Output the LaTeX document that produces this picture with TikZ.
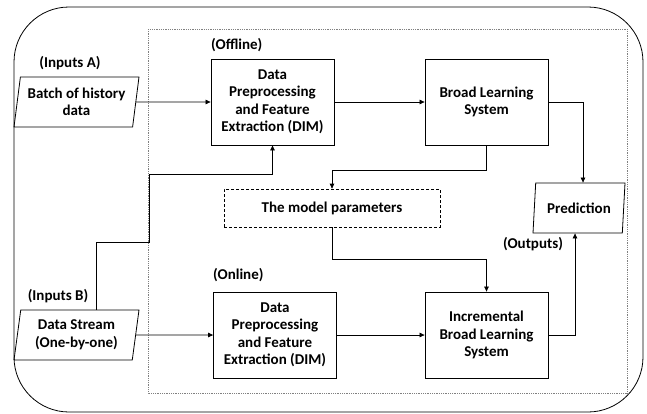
\documentclass[tikz,border=0pt]{standalone}
\usepackage{fontspec}
\setmainfont{Carlito}
\usetikzlibrary{arrows.meta,shapes.geometric,positioning}

\begin{document}
\begin{tikzpicture}[x=1pt,y=-1pt,
    font=\fontsize{15}{17.5}\selectfont\bfseries,
    blk/.style={draw,line width=0.8pt,minimum width=123pt,minimum height=86pt,align=center,inner sep=2pt},
    io/.style={draw,line width=0.8pt,trapezium,trapezium left angle=78,trapezium right angle=102,
               trapezium stretches body,minimum width=125pt,minimum height=50pt,align=center,inner sep=1pt},
    lbl/.style={inner sep=0pt},
    arr/.style={-{Triangle[length=5pt,width=4.5pt]},line width=0.7pt}]
    %\draw[color=gray,step=10pt,help lines,opacity=0.3] (0,0) grid (647,413); %help grids
    \useasboundingbox (0,0) rectangle (647,413);
    \draw[line width=0.8pt,rounded corners=55pt] (14,7) rectangle (643,412);
    \draw[gray,densely dotted,line width=0.8pt] (148,29) rectangle (627,393);

    \node[io] (batch) at (76.5,102) {Batch of history\\data};
    \node[io] (stream) at (76.5,335) {Data Stream\\(One-by-one)};
    \node[io,minimum width=92pt] (pred) at (579,208) {Prediction};
    \node[blk] (dpA) at (272.5,102) {Data\\Preprocessing\\and Feature\\Extraction (DIM)};
    \node[blk] (bls) at (486.5,102) {Broad Learning\\System};
    \node[blk] (dpB) at (275,335) {Data\\Preprocessing\\and Feature\\Extraction (DIM)};
    \node[blk] (ibls) at (486.5,335) {Incremental\\Broad Learning\\System};
    \node[draw,densely dashed,line width=0.7pt,minimum width=216pt,minimum height=38pt] (params) at (332,208) {The model parameters};

    \node[lbl] (inA) at (70,63) {(Inputs A)};
    \node[lbl] (inB) at (58,296) {(Inputs B)};
    \node[lbl,anchor=west] (off) at (211,45) {(Offline)};
    \node[lbl,anchor=west] (on) at (213,275) {(Online)};
    \node[lbl] (outs) at (533,244) {(Outputs)};

    \coordinate (bendA) at (149,242);
    \coordinate (bendB) at (149,174);

    \draw[arr] (batch) -- (dpA);
    \draw[arr] (dpA) -- (bls);
    \draw[arr] (bls.east) -| ([xshift=4pt]pred.north);
    \draw[arr] (bls.south) -- ++(0,25) -| (params.north);
    \draw[arr] (params.south) -- ++(0,32) -| (ibls.north);
    \draw[arr] (stream) -- (dpB);
    \draw[arr] (dpB) -- (ibls);
    \draw[arr] (ibls.east) -| ([xshift=-4pt]pred.south);
    \draw[arr] ([xshift=19.5pt]stream.north) |- (bendA) -- (bendB) -| (dpA.south);
\end{tikzpicture}
\end{document}
